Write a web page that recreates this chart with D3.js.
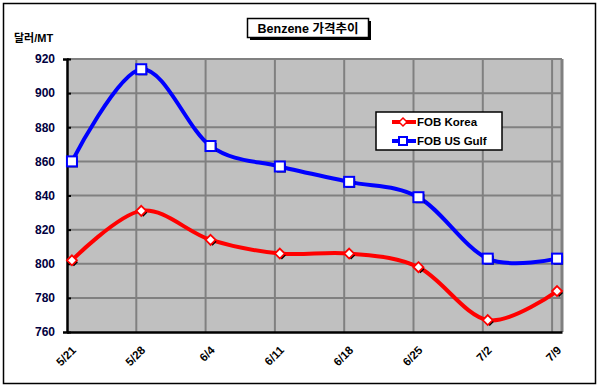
<!DOCTYPE html>
<html>
<head>
<meta charset="utf-8">
<script src="https://cdn.jsdelivr.net/npm/d3@7"></script>
<style>
  body { margin: 0; background: #fff; }
  svg { font-family: Arial, "Liberation Sans", sans-serif; }
</style>
</head>
<body>
<div id="chart"></div>
<script>
// chart data
const dates = ["5/21", "5/28", "6/4", "6/11", "6/18", "6/25", "7/2", "7/9"];
const fobKorea = [802, 831, 814, 806, 806, 798, 767, 784];
const fobUsGulf = [860, 914, 869, 857, 848, 839, 803, 803];
const yTicks = [760, 780, 800, 820, 840, 860, 880, 900, 920];
const seriesNames = ["FOB Korea", "FOB US Gulf"];

const width = 597, height = 388;
const plot = { left: 67, right: 562, top: 59, bottom: 332 };

const svg = d3.select("#chart").append("svg")
  .attr("width", width)
  .attr("height", height);

// outer frame
svg.append("rect")
  .attr("x", 3.5).attr("y", 3.5)
  .attr("width", 592).attr("height", 380)
  .attr("fill", "#fff").attr("stroke", "#000").attr("stroke-width", 1.5);

// date axis: each week is 7 days, points sit in the middle of their day
const x = d3.scaleLinear().domain([0, 50]).range([plot.left, plot.right]);
const xPos = i => x(i * 7 + 0.5);
const y = d3.scaleLinear().domain([760, 920]).range([plot.bottom, plot.top]);

// plot background
svg.append("rect")
  .attr("x", plot.left).attr("y", plot.top)
  .attr("width", plot.right - plot.left).attr("height", plot.bottom - plot.top)
  .attr("fill", "#c0c0c0");

// gridlines
svg.append("g")
  .selectAll("line")
  .data(yTicks.slice(1))
  .enter().append("line")
  .attr("x1", plot.left).attr("x2", plot.right)
  .attr("y1", d => y(d)).attr("y2", d => y(d))
  .attr("stroke", "#808080").attr("stroke-width", 2);

svg.append("g")
  .selectAll("line")
  .data(d3.range(1, dates.length + 1))
  .enter().append("line")
  .attr("x1", d => x(d * 7)).attr("x2", d => x(d * 7))
  .attr("y1", plot.top).attr("y2", plot.bottom)
  .attr("stroke", "#808080").attr("stroke-width", 2);

// right gray edge of plot
svg.append("line")
  .attr("x1", plot.right).attr("x2", plot.right)
  .attr("y1", plot.top).attr("y2", plot.bottom)
  .attr("stroke", "#808080").attr("stroke-width", 3);

// axes
const yAxis = svg.append("g")
  .attr("transform", `translate(${plot.left},0)`)
  .call(d3.axisLeft(y).tickValues(yTicks).tickSize(4).tickPadding(8));
yAxis.select(".domain").attr("stroke", "#000").attr("stroke-width", 2.5);
yAxis.selectAll(".tick line").attr("stroke", "#000").attr("stroke-width", 2).attr("x2", 0).attr("x1", 4);
yAxis.selectAll("text")
  .attr("font-size", 12).attr("font-weight", "bold")
  .attr("fill", "#000040").attr("font-family", "Arial, 'Liberation Sans', sans-serif");

const xAxis = svg.append("g")
  .attr("transform", `translate(0,${plot.bottom})`)
  .call(d3.axisBottom(x).tickValues(d3.range(0, dates.length).map(i => i * 7)).tickSize(0).tickFormat(""));
xAxis.select(".domain").attr("stroke", "#000").attr("stroke-width", 2.5);

svg.append("g")
  .selectAll("text")
  .data(dates)
  .enter().append("text")
  .attr("transform", (d, i) => `translate(${x(i * 7) + 7},${plot.bottom + 16}) rotate(-45)`)
  .attr("text-anchor", "end")
  .attr("dy", "0.35em")
  .attr("font-size", 11.5).attr("font-weight", "bold")
  .attr("fill", "#000")
  .text(d => d);

// smoothed lines
const line = d3.line()
  .x((d, i) => xPos(i))
  .y(d => y(d))
  .curve(d3.curveCardinal.tension(0));

const series = [
  { name: seriesNames[0], values: fobKorea, color: "#ff0000", marker: "diamond" },
  { name: seriesNames[1], values: fobUsGulf, color: "#0000ff", marker: "square" }
];

series.forEach(s => {
  svg.append("path")
    .datum(s.values)
    .attr("d", line)
    .attr("fill", "none")
    .attr("stroke", s.color)
    .attr("stroke-width", 4);
});

function drawMarker(g, type, cx, cy, color) {
  if (type === "square") {
    g.append("rect")
      .attr("x", cx - 3).attr("y", cy - 3).attr("width", 9).attr("height", 9)
      .attr("fill", "#000");
    g.append("rect")
      .attr("x", cx - 5).attr("y", cy - 5).attr("width", 10).attr("height", 10)
      .attr("fill", "#fff").attr("stroke", color).attr("stroke-width", 2);
  } else {
    g.append("path")
      .attr("d", `M${cx + 2},${cy - 2} L${cx + 6},${cy + 2} L${cx + 2},${cy + 6} L${cx - 2},${cy + 2}Z`)
      .attr("fill", "#000");
    g.append("path")
      .attr("d", `M${cx},${cy - 5} L${cx + 5},${cy} L${cx},${cy + 5} L${cx - 5},${cy}Z`)
      .attr("fill", "#fff").attr("stroke", color).attr("stroke-width", 1.8);
  }
}

series.forEach(s => {
  const g = svg.append("g");
  s.values.forEach((v, i) => drawMarker(g, s.marker, xPos(i), y(v), s.color));
});

// legend
const legend = svg.append("g").attr("transform", "translate(376,112)");
legend.append("rect")
  .attr("width", 126).attr("height", 38)
  .attr("fill", "#fff").attr("stroke", "#000").attr("stroke-width", 1.5);
series.forEach((s, i) => {
  const ly = 10 + i * 19;
  legend.append("line")
    .attr("x1", 16).attr("x2", 40).attr("y1", ly).attr("y2", ly)
    .attr("stroke", s.color).attr("stroke-width", 4);
  const mg = legend.append("g");
  if (s.marker === "square") {
    mg.append("rect").attr("x", 23).attr("y", ly - 4).attr("width", 8).attr("height", 8)
      .attr("fill", "#fff").attr("stroke", s.color).attr("stroke-width", 2);
  } else {
    mg.append("path")
      .attr("d", `M27,${ly - 4} L31,${ly} L27,${ly + 4} L23,${ly}Z`)
      .attr("fill", "#fff").attr("stroke", s.color).attr("stroke-width", 1.5);
  }
  legend.append("text")
    .attr("x", 41).attr("y", ly).attr("dy", "0.35em")
    .attr("font-size", 11.5).attr("font-weight", "bold")
    .text(s.name);
});

// title box with shadow
svg.append("rect")
  .attr("x", 250).attr("y", 21).attr("width", 121).attr("height", 19)
  .attr("fill", "#000");
svg.append("rect")
  .attr("x", 247.5).attr("y", 18.5).attr("width", 121).attr("height", 19)
  .attr("fill", "#fff").attr("stroke", "#000").attr("stroke-width", 1.5);
svg.append("text")
  .attr("x", 308).attr("y", 28).attr("dy", "0.36em")
  .attr("text-anchor", "middle")
  .attr("font-size", 12.5).attr("font-weight", "bold")
  .attr("font-family", "Arial, 'Noto Sans CJK KR', sans-serif")
  .text("Benzene 가격추이");

// unit label
svg.append("text")
  .attr("x", 14).attr("y", 38)
  .attr("dy", "0.35em")
  .attr("font-size", 11).attr("font-weight", "bold")
  .attr("font-family", "Arial, 'Noto Sans CJK KR', sans-serif")
  .text("달러/MT");
</script>
</body>
</html>
